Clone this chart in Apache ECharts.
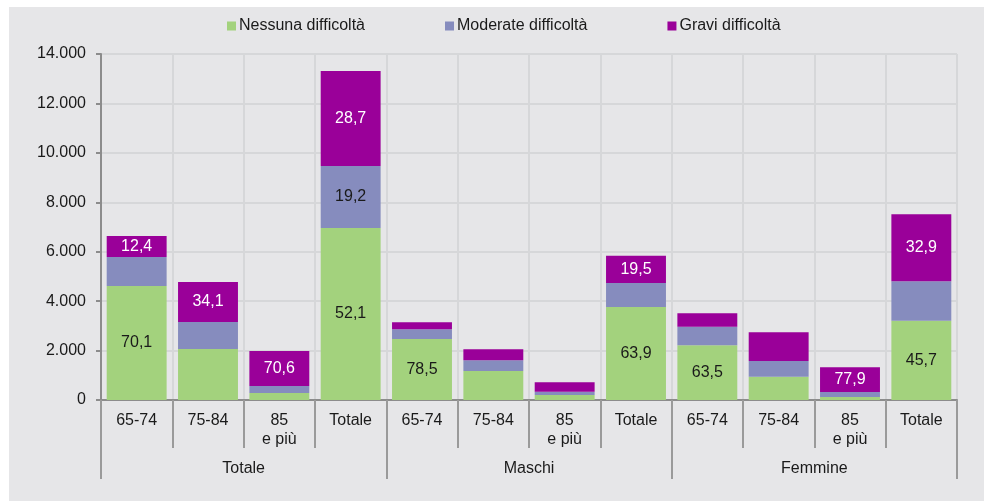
<!DOCTYPE html>
<html>
<head>
<meta charset="utf-8">
<script src="https://cdn.jsdelivr.net/npm/echarts@6/dist/echarts.min.js"></script>
<style>
  html, body { margin: 0; padding: 0; background: #ffffff; }
  #bg { position: absolute; left: 9px; top: 7px; width: 975px; height: 494px; background: #e6e6e8; }
  #chart { position: absolute; left: 0; top: 0; width: 984px; height: 501px; }
</style>
</head>
<body>
<div id="bg"></div>
<div id="chart"></div>
<script>
var categories = ['65-74', '75-84', '85\ne più', 'Totale', '65-74', '75-84', '85\ne più', 'Totale', '65-74', '75-84', '85\ne più', 'Totale'];
var groups = ['Totale', 'Maschi', 'Femmine'];
var seriesNames = ['Nessuna difficoltà', 'Moderate difficoltà', 'Gravi difficoltà'];
var nessuna = [4613, 2064, 283, 6961, 2468, 1174, 202, 3764, 2212, 944, 121, 3210];
var moderate = [1174, 1093, 284, 2509, 392, 432, 135, 971, 756, 634, 203, 1592];
var gravi = [850, 1618, 1416, 3844, 284, 445, 378, 1106, 540, 1161, 998, 2712];
var nessunaLabels = ['70,1', '', '', '52,1', '78,5', '', '', '63,9', '63,5', '', '', '45,7'];
var moderateLabels = ['', '', '', '19,2', '', '', '', '', '', '', '', ''];
var graviLabels = ['12,4', '34,1', '70,6', '28,7', '', '', '', '19,5', '', '', '77,9', '32,9'];
var yTicks = { min: 0, max: 14000, interval: 2000 };

var FONT = '"Liberation Sans", Arial, sans-serif';
var TXT = '#1a1a1a';
var colors = ['#a3d27d', '#868cbe', '#9a0099'];

function fmtThousands(v) {
  return String(v).replace(/\B(?=(\d{3})+(?!\d))/g, '.');
}
function makeSeries(name, data, labels, color, labelColor) {
  return {
    name: name,
    type: 'bar',
    stack: 'tot',
    xAxisIndex: 0,
    barCategoryGap: '16%',
    itemStyle: { color: color },
    label: {
      show: true,
      position: 'inside',
      fontFamily: FONT,
      fontSize: 16,
      color: labelColor,
      formatter: function (p) { return labels[p.dataIndex]; }
    },
    emphasis: { disabled: true },
    data: data
  };
}

var chart = echarts.init(document.getElementById('chart'), null, { renderer: 'canvas' });
chart.setOption({
  backgroundColor: 'transparent',
  animation: false,
  textStyle: { fontFamily: FONT },
  legend: {
    top: 13,
    left: 222,
    itemWidth: 9,
    itemHeight: 9,
    itemGap: 80,
    icon: 'rect',
    textStyle: { fontFamily: FONT, fontSize: 16, color: TXT, padding: [0, 0, 0, -2] },
    data: seriesNames
  },
  grid: { left: 101, right: 27, top: 54, bottom: 101, containLabel: false },
  xAxis: [
    {
      type: 'category',
      data: categories,
      position: 'bottom',
      axisLine: { show: true, lineStyle: { color: '#8c8c8c', width: 2 } },
      axisTick: { show: true, length: 48, lineStyle: { color: '#9a9a9a', width: 2 } },
      axisLabel: { fontFamily: FONT, fontSize: 16, color: TXT, lineHeight: 19, margin: 11, interval: 0 },
      splitLine: { show: true, lineStyle: { color: '#d6d7d9', width: 2 } }
    },
    {
      type: 'category',
      data: groups,
      position: 'bottom',
      axisLine: { show: false },
      axisTick: { show: true, length: 79, lineStyle: { color: '#9a9a9a', width: 2 } },
      axisLabel: { fontFamily: FONT, fontSize: 16, color: TXT, margin: 61, interval: 0 },
      splitLine: { show: false }
    }
  ],
  yAxis: {
    type: 'value',
    min: yTicks.min,
    max: yTicks.max,
    interval: yTicks.interval,
    axisLine: { show: true, lineStyle: { color: '#8c8c8c', width: 2 } },
    axisTick: { show: true, length: 5, lineStyle: { color: '#8c8c8c', width: 2 } },
    axisLabel: { fontFamily: FONT, fontSize: 16, color: TXT, margin: 15, formatter: fmtThousands },
    splitLine: { show: true, lineStyle: { color: '#d6d7d9', width: 2 } }
  },
  series: [
    makeSeries(seriesNames[0], nessuna, nessunaLabels, colors[0], TXT),
    makeSeries(seriesNames[1], moderate, moderateLabels, colors[1], TXT),
    makeSeries(seriesNames[2], gravi, graviLabels, colors[2], '#ffffff')
  ]
});
</script>
</body>
</html>
